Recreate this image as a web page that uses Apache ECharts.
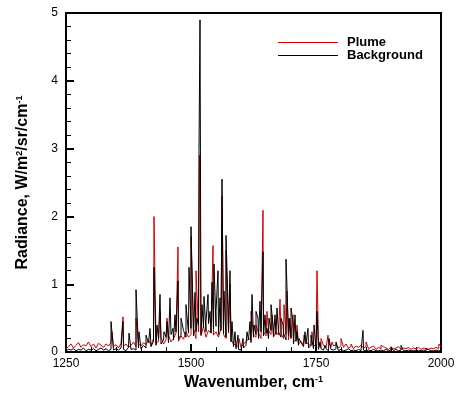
<!DOCTYPE html>
<html><head><meta charset="utf-8">
<script src="https://cdn.jsdelivr.net/npm/echarts@6/dist/echarts.min.js"></script>
<style>html,body{margin:0;padding:0;background:#fff}#c{width:459px;height:396px}</style>
</head><body><div id="c"></div>
<script>
// noise floor sampled every 5 cm-1 from 1250 to 2000
const noiseStart = 1250, noiseStep = 5;
const plumeNoise = [
0.05,0.08,0.12,0.06,0.10,0.14,0.07,0.11,0.09,0.15,
0.08,0.12,0.06,0.13,0.10,0.07,0.12,0.09,0.14,0.08,
0.11,0.06,0.13,0.09,0.12,0.07,0.10,0.15,0.08,0.12,
0.09,0.14,0.11,0.18,0.10,0.20,0.13,0.16,0.22,0.12,
0.18,0.25,0.15,0.20,0.28,0.16,0.24,0.19,0.30,0.22,
0.26,0.35,0.20,0.30,0.24,0.38,0.22,0.32,0.28,0.25,
0.30,0.22,0.35,0.26,0.20,0.28,0.18,0.12,0.10,0.08,
0.07,0.12,0.15,0.20,0.18,0.25,0.22,0.28,0.20,0.30,
0.24,0.32,0.26,0.22,0.30,0.25,0.28,0.20,0.26,0.18,
0.22,0.15,0.18,0.12,0.16,0.10,0.14,0.12,0.09,0.11,
0.08,0.12,0.07,0.10,0.06,0.14,0.08,0.09,0.11,0.06,
0.10,0.07,0.12,0.06,0.08,0.05,0.09,0.07,0.10,0.06,
0.08,0.05,0.07,0.09,0.04,0.07,0.05,0.08,0.06,0.04,
0.07,0.05,0.06,0.08,0.04,0.06,0.05,0.07,0.04,0.06,
0.05,0.07,0.04,0.06,0.05,0.04,0.06,0.05,0.07,0.05,
0.08];
const bgNoise = [
0.02,0.04,0.03,0.05,0.02,0.04,0.03,0.06,0.02,0.04,
0.03,0.05,0.02,0.04,0.06,0.03,0.05,0.02,0.04,0.03,
0.05,0.03,0.06,0.04,0.02,0.07,0.04,0.05,0.03,0.06,
0.05,0.10,0.06,0.14,0.08,0.16,0.10,0.20,0.12,0.18,
0.22,0.14,0.26,0.18,0.30,0.20,0.25,0.32,0.22,0.28,
0.35,0.24,0.30,0.40,0.26,0.36,0.30,0.42,0.28,0.34,
0.38,0.26,0.32,0.28,0.22,0.30,0.15,0.08,0.05,0.04,
0.03,0.06,0.10,0.18,0.14,0.22,0.26,0.20,0.30,0.24,
0.28,0.20,0.32,0.24,0.26,0.30,0.22,0.28,0.18,0.24,
0.20,0.12,0.16,0.10,0.14,0.08,0.12,0.06,0.10,0.05,
0.06,0.04,0.05,0.03,0.05,0.02,0.04,0.03,0.05,0.02,
0.04,0.02,0.03,0.05,0.02,0.03,0.02,0.04,0.02,0.03,
0.02,0.03,0.02,0.04,0.02,0.02,0.03,0.02,0.04,0.02,
0.03,0.02,0.04,0.02,0.03,0.02,0.02,0.03,0.02,0.02,
0.03,0.02,0.02,0.03,0.02,0.04,0.02,0.02,0.03,0.02,
0.02];
// spectral lines: wavenumber / radiance
const plumePeakWn = [1342,1364,1390,1426,1438,1452,1474,1500,1510,1517,1544,1562,1570,1578,1596,1620,1630,1644,1652,1662,1678,1686,1692,1698,1704,1712,1726,1742,1752,1760,1774,1782,1800,1820,1850,1880,1996];
const plumePeakVal = [0.30,0.52,0.50,2.00,0.60,0.50,1.55,1.70,1.20,2.90,1.57,2.30,1.50,1.00,0.20,0.60,0.40,2.09,0.60,0.55,0.78,0.70,0.90,0.50,0.55,0.40,0.25,0.30,1.20,0.20,0.25,0.15,0.20,0.12,0.15,0.10,0.12];
const bgPeakWn = [1340,1364,1376,1390,1396,1410,1418,1426,1432,1438,1446,1452,1458,1464,1468,1474,1480,1486,1490,1496,1500,1504,1508,1512,1516,1518,1522,1526,1530,1534,1538,1542,1546,1550,1554,1558,1562,1566,1570,1574,1578,1582,1588,1594,1604,1612,1618,1622,1626,1630,1634,1638,1644,1648,1652,1656,1660,1664,1668,1672,1676,1680,1684,1690,1692,1696,1700,1704,1708,1712,1716,1722,1728,1734,1740,1746,1752,1758,1768,1776,1790,1844,1900,1920,1970];
const bgPeakVal = [0.45,0.45,0.28,0.92,0.30,0.25,0.35,1.25,0.40,0.85,0.30,0.45,0.80,0.35,0.55,1.05,0.50,0.30,0.70,1.25,1.85,0.60,0.88,0.50,2.97,4.90,0.70,0.82,0.45,0.85,0.60,1.03,1.30,0.60,1.20,0.80,2.55,0.90,1.72,0.70,1.20,0.45,0.30,0.25,0.20,0.30,0.45,0.85,0.40,0.60,0.50,0.75,1.48,0.55,0.35,0.50,0.70,0.40,0.55,0.65,0.30,0.50,0.40,1.37,0.95,0.50,0.65,0.45,0.55,0.30,0.20,0.15,0.30,0.35,0.25,0.40,0.60,0.15,0.10,0.20,0.15,0.32,0.08,0.10,0.05];
const xTicks = [1250,1500,1750,2000];
const yTicks = [0,1,2,3,4,5];

function build(noise, pw, pv){
  const pts = noise.map((v,i)=>[noiseStart+i*noiseStep, v, 0]);
  pw.forEach((w,i)=>pts.push([w, pv[i], 1]));
  pts.sort((a,b)=>a[0]-b[0] || a[2]-b[2]);
  return pts.map(p=>[p[0],p[1]]);
}
const chart = echarts.init(document.getElementById('c'), null, {renderer:'canvas'});
const font = 'Liberation Sans, Arial, sans-serif';
const rich = {b:{fontFamily:font,fontWeight:'bold',fontSize:16,color:'#000',verticalAlign:'bottom'},
      s:{fontFamily:font,fontWeight:'bold',fontSize:9,color:'#000',verticalAlign:'top'}};
chart.setOption({
  animation:false,
  backgroundColor:'#fff',
  grid:{left:66,top:13,right:18,bottom:43,show:true,borderColor:'#000',borderWidth:2,backgroundColor:'#fff'},
  legend:{orient:'vertical',left:273,top:31,itemWidth:60,itemHeight:1,itemGap:0,icon:'rect',
    textStyle:{fontFamily:font,fontWeight:'bold',fontSize:13,color:'#000',padding:[0,0,0,4]},
    data:['Plume','Background']},
  xAxis:{type:'value',min:xTicks[0],max:xTicks[xTicks.length-1],interval:250,
    axisLine:{show:true,lineStyle:{color:'#000',width:2}},
    axisTick:{show:true,inside:true,length:8,lineStyle:{color:'#000',width:2}},
    minorTick:{show:true,splitNumber:5,length:5,lineStyle:{color:'#000',width:1}},
    splitLine:{show:false},
    axisLabel:{color:'#000',fontFamily:font,fontSize:12,margin:6,formatter:v=>String(v)},
    name:'{b|Wavenumber, cm}{s|-1}',nameLocation:'middle',nameGap:21,
    nameTextStyle:{rich:rich}},
  yAxis:{type:'value',min:yTicks[0],max:yTicks[yTicks.length-1],interval:1,
    axisLine:{show:true,lineStyle:{color:'#000',width:2}},
    axisTick:{show:true,inside:true,length:8,lineStyle:{color:'#000',width:2}},
    minorTick:{show:true,splitNumber:5,length:5,lineStyle:{color:'#000',width:1}},
    splitLine:{show:false},
    axisLabel:{color:'#000',fontFamily:font,fontSize:12,margin:8,formatter:v=>String(v)},
    name:'{b|Radiance, W/m}{s|2}{b|/sr/cm}{s|-1}',nameLocation:'middle',nameGap:35,
    nameTextStyle:{rich:rich}},
  series:[
    {name:'Plume',type:'line',symbol:'none',color:'#d40000',lineStyle:{width:1,color:'#d40000'},
     data:build(plumeNoise,plumePeakWn,plumePeakVal)},
    {name:'Background',type:'line',symbol:'none',color:'#000',lineStyle:{width:1,color:'#000'},
     data:build(bgNoise,bgPeakWn,bgPeakVal)}
  ]
});
</script></body></html>
